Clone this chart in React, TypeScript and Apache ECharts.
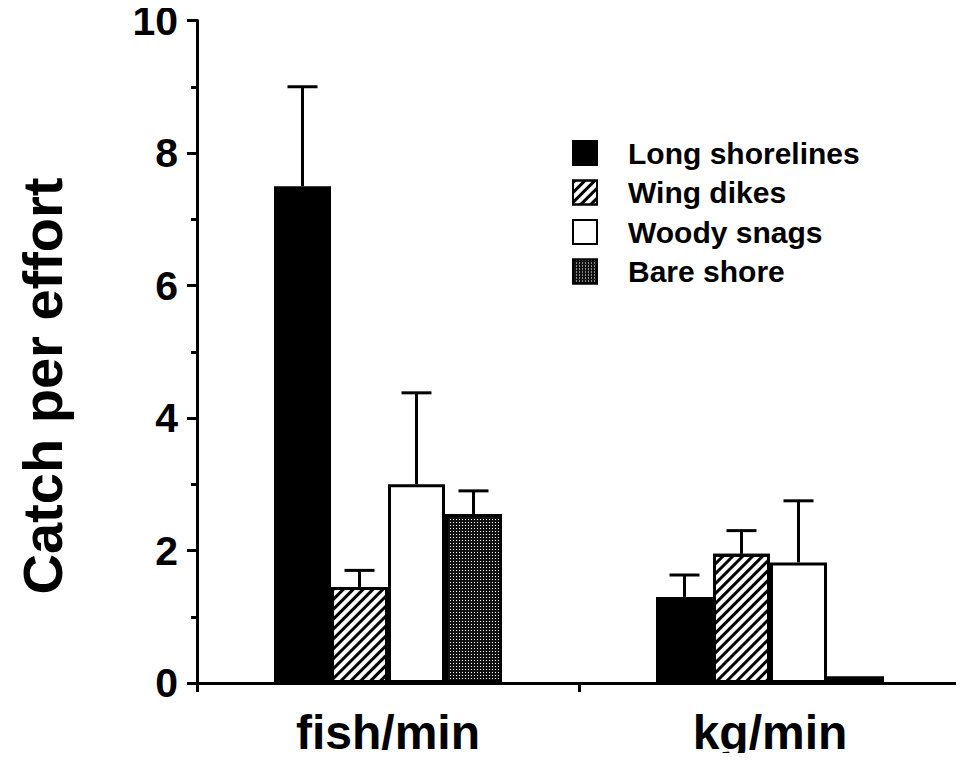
import React, { useEffect, useRef } from "react";
import * as echarts from "echarts";

const categories = ["fish/min", "kg/min"];
const seriesNames = ["Long shorelines", "Wing dikes", "Woody snags", "Bare shore"];
const longShorelines = [7.5, 1.3];
const wingDikes = [1.45, 1.95];
const woodySnags = [3.0, 1.82];
const bareShore = [2.55, 0.1];
const longShorelinesErr = [9.0, 1.63];
const wingDikesErr = [1.7, 2.3];
const woodySnagsErr = [4.38, 2.75];
const bareShoreErr = [2.9, null];
const yTicks = [0, 2, 4, 6, 8, 10];

const FONT = "Liberation Sans, Arial, Helvetica, sans-serif";
const BAR_W = 57;

const values = [longShorelines, wingDikes, woodySnags, bareShore];
const errs = [longShorelinesErr, wingDikesErr, woodySnagsErr, bareShoreErr];

const styles: any[] = [
  { color: "#000", borderColor: "#000", borderWidth: 3 },
  {
    color: "#fff",
    borderColor: "#000",
    borderWidth: 3,
    decal: {
      symbol: "rect",
      symbolSize: 1,
      color: "#000",
      backgroundColor: "#fff",
      dashArrayX: [1, 0],
      dashArrayY: [3, 4],
      rotation: -Math.PI / 4,
    },
  },
  { color: "#fff", borderColor: "#000", borderWidth: 3 },
  {
    color: "#111",
    borderColor: "#000",
    borderWidth: 3,
    decal: {
      symbol: "rect",
      symbolSize: 1,
      color: "#fff",
      backgroundColor: "#111",
      dashArrayX: [1, 2],
      dashArrayY: [1, 2],
      rotation: 0,
    },
  },
];

export default function App() {
  const ref = useRef<HTMLDivElement>(null);
  useEffect(() => {
    if (!ref.current) return;
    const chart = echarts.init(ref.current, null, { renderer: "svg" });
    const barSeries = seriesNames.map((name, i) => ({
      name,
      type: "bar",
      data: values[i],
      barWidth: BAR_W,
      barGap: "0%",
      itemStyle: styles[i],
      emphasis: { disabled: true },
    }));
    const errSeries = seriesNames.map((name, i) => ({
      name: name + " err",
      type: "custom",
      z: 1,
      data: categories
        .map((_, c) => [c, values[i][c], errs[i][c]])
        .filter((d) => d[2] != null),
      renderItem: (params: any, api: any) => {
        const c = api.value(0);
        const base = api.coord([c, api.value(1)]);
        const top = api.coord([c, api.value(2)]);
        const x = base[0] + (i - 1.5) * BAR_W;
        const st = { stroke: "#000", lineWidth: 3 };
        return {
          type: "group",
          children: [
            { type: "line", shape: { x1: x, y1: base[1], x2: x, y2: top[1] }, style: st },
            { type: "line", shape: { x1: x - 15, y1: top[1], x2: x + 15, y2: top[1] }, style: st },
          ],
        };
      },
    }));
    chart.setOption({
      animation: false,
      grid: { left: 197, right: 3, top: 17, bottom: 78, containLabel: false },
      legend: {
        data: seriesNames,
        orient: "vertical",
        left: 567,
        top: 133,
        itemWidth: 24,
        itemHeight: 24,
        itemGap: 9.5,
        icon: "rect",
        selectedMode: false,
        textStyle: {
          fontFamily: FONT,
          fontWeight: "bold",
          fontSize: 30,
          color: "#000",
          lineHeight: 30,
          padding: [0, 0, 0, 26],
        },
      },
      xAxis: {
        type: "category",
        data: categories,
        boundaryGap: true,
        axisLine: { lineStyle: { color: "#000", width: 3 } },
        axisTick: { show: true, length: 9, lineStyle: { color: "#000", width: 3 } },
        axisLabel: {
          margin: 27,
          fontFamily: FONT,
          fontWeight: "bold",
          fontSize: 48,
          lineHeight: 44,
          color: "#000",
        },
        splitLine: { show: false },
      },
      yAxis: {
        type: "value",
        min: yTicks[0],
        max: yTicks[yTicks.length - 1],
        interval: 2,
        axisLine: { show: true, lineStyle: { color: "#000", width: 3 } },
        axisTick: { show: true, length: 10, lineStyle: { color: "#000", width: 3 } },
        minorTick: { show: true, splitNumber: 2, length: 6, lineStyle: { color: "#000", width: 3 } },
        axisLabel: {
          margin: 19,
          fontFamily: FONT,
          fontWeight: "bold",
          fontSize: 41,
          lineHeight: 32,
          color: "#000",
        },
        splitLine: { show: false },
      },
      graphic: [
        {
          type: "text",
          x: 42,
          y: 386,
          rotation: Math.PI / 2,
          style: {
            text: "Catch per effort",
            fontFamily: FONT,
            fontWeight: "bold",
            fontSize: 56,
            fill: "#000",
            align: "center",
            verticalAlign: "middle",
          },
        },
      ],
      series: [...barSeries, ...errSeries],
    });
    return () => chart.dispose();
  }, []);
  return <div ref={ref} style={{ width: 964, height: 761, margin: -8 }} />;
}
